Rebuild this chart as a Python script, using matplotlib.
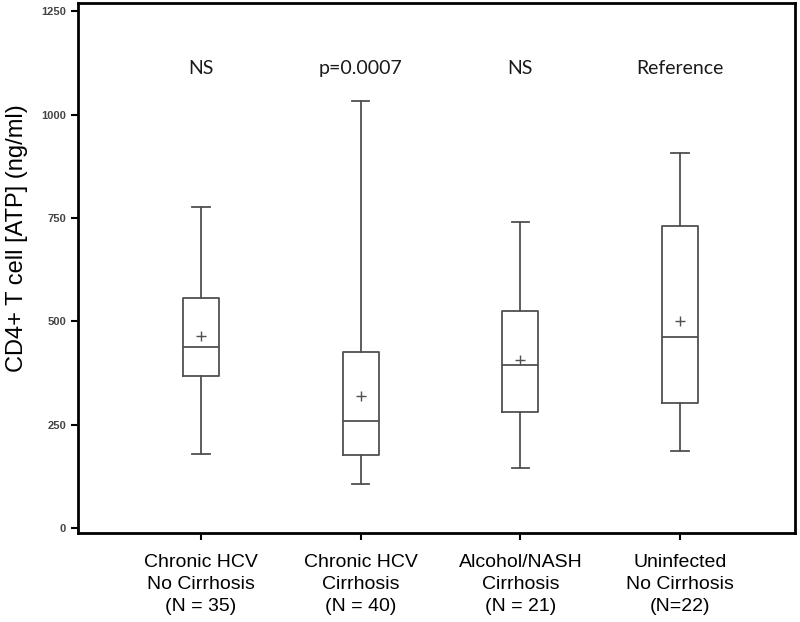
import matplotlib
matplotlib.use("Agg")
import matplotlib.pyplot as plt

# groups and box statistics (ng/ml)
groups = ["Chronic HCV\nNo Cirrhosis\n(N = 35)",
          "Chronic HCV\nCirrhosis\n(N = 40)",
          "Alcohol/NASH\nCirrhosis\n(N = 21)",
          "Uninfected\nNo Cirrhosis\n(N=22)"]
whisker_low = [179, 106, 145, 186]
q1 = [367, 176, 280, 302]
median = [437, 259, 394, 462]
q3 = [556, 426, 525, 730]
whisker_high = [776, 1032, 740, 907]
mean = [464, 319, 406, 500]
annotations = ["NS", "p=0.0007", "NS", "Reference"]
annot_y = 1112
yticks = [0, 250, 500, 750, 1000, 1250]

stats = []
for i in range(len(groups)):
    stats.append({
        "whislo": whisker_low[i], "q1": q1[i], "med": median[i],
        "q3": q3[i], "whishi": whisker_high[i], "mean": mean[i],
        "fliers": [],
    })

fig = plt.figure(figsize=(8, 6.22), dpi=100)
ax = fig.add_axes([78 / 800, 1 - 533 / 622, (795 - 78) / 800, (533 - 3) / 622])

line_col = "#505050"
positions = range(1, len(groups) + 1)
ax.bxp(stats, positions=positions, widths=0.225, showmeans=True,
       boxprops=dict(color=line_col, linewidth=1.3),
       medianprops=dict(color=line_col, linewidth=1.3),
       whiskerprops=dict(color=line_col, linewidth=1.3),
       capprops=dict(color=line_col, linewidth=1.3),
       capwidths=0.11,
       meanprops=dict(marker="+", markeredgecolor=line_col,
                      markersize=7, markeredgewidth=1.0))

for x, txt in zip(positions, annotations):
    ax.text(x, annot_y, txt, ha="center", va="center", fontsize=14,
            family="Lato", color="#1a1a1a")

ax.set_xlim(0.23, 4.72)
ax.set_ylim(-12, 1270)
ax.set_yticks(yticks)
ax.set_yticklabels([str(v) for v in yticks], fontsize=8,
                   fontweight="bold", color="#444444", family="Liberation Sans")
ax.set_xticks(list(positions))
ax.set_xticklabels(groups, fontsize=14, family="Liberation Sans",
                   linespacing=1.4)
ax.tick_params(axis="both", direction="out", length=5, width=1.5)
ax.tick_params(axis="x", pad=10)
ax.set_ylabel("CD4+ T cell [ATP] (ng/ml)", fontsize=17,
              family="Liberation Sans", va="center")
ax.yaxis.set_label_coords(-0.085, 0.557)
for s in ax.spines.values():
    s.set_linewidth(2)
    s.set_color("black")

plt.savefig("out.png", dpi=100)
